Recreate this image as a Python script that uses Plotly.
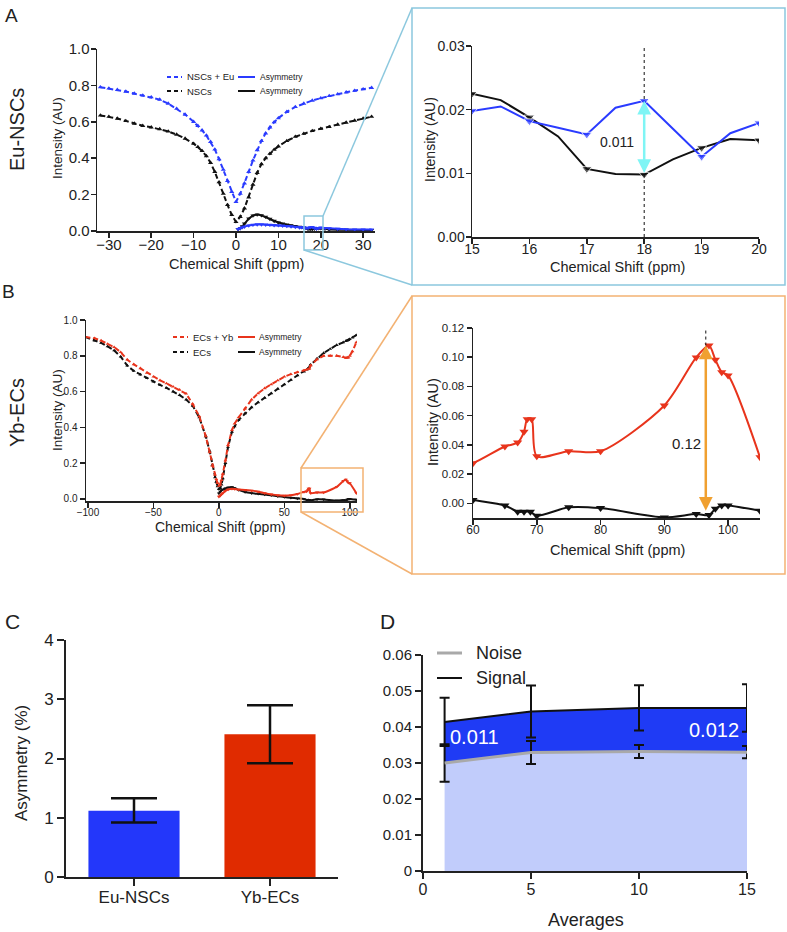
import plotly.graph_objects as go

W, H = 787, 932

# ---------------- Panel A data (Eu-NSCs) ----------------
a_shift = [-32, -30, -28, -26, -24, -22, -20, -18, -16, -14, -12, -10, -9, -8, -7, -6, -5, -4, -3, -2, -1,
           0, 1, 2, 3, 4, 5, 6, 7, 8, 9, 10, 12, 14, 16, 18, 20, 22, 24, 26, 28, 30, 32]
a_eu = [0.790, 0.783, 0.776, 0.766, 0.755, 0.745, 0.735, 0.722, 0.700, 0.672, 0.640, 0.600, 0.578, 0.553,
        0.525, 0.490, 0.448, 0.395, 0.337, 0.275, 0.215, 0.160, 0.205, 0.262, 0.325, 0.388, 0.445, 0.495,
        0.537, 0.570, 0.598, 0.620, 0.655, 0.682, 0.700, 0.717, 0.730, 0.742, 0.752, 0.762, 0.771, 0.779, 0.787]
a_nsc = [0.635, 0.628, 0.618, 0.605, 0.590, 0.578, 0.570, 0.560, 0.547, 0.530, 0.508, 0.480, 0.462, 0.440,
         0.412, 0.375, 0.325, 0.268, 0.205, 0.143, 0.088, 0.050, 0.078, 0.125, 0.185, 0.255, 0.320, 0.368,
         0.400, 0.425, 0.447, 0.465, 0.495, 0.518, 0.535, 0.550, 0.562, 0.572, 0.585, 0.596, 0.607, 0.618, 0.628]
a_asym_shift = [0.5, 1, 1.5, 2, 3, 4, 5, 6, 7, 8, 9, 10, 11, 12, 13, 14, 15, 15.5, 16, 16.5, 17, 17.5, 18,
                18.5, 19, 19.5, 20, 21, 22, 24, 26, 28, 30, 32]
a_asym_eu = [0.010, 0.015, 0.020, 0.024, 0.030, 0.034, 0.036, 0.036, 0.035, 0.034, 0.032, 0.031, 0.029, 0.027,
             0.025, 0.022, 0.0198, 0.0205, 0.0182, 0.01715, 0.0161, 0.0203, 0.0214, 0.0170, 0.0126, 0.0163,
             0.0179, 0.016, 0.014, 0.011, 0.009, 0.008, 0.008, 0.008]
a_asym_nsc = [0.010, 0.015, 0.025, 0.040, 0.068, 0.085, 0.090, 0.086, 0.078, 0.066, 0.055, 0.046, 0.040, 0.035,
              0.031, 0.027, 0.0225, 0.0215, 0.0188, 0.0158, 0.0107, 0.0099, 0.0098, 0.0122, 0.0140, 0.0154,
              0.0152, 0.012, 0.008, 0.007, 0.006, 0.005, 0.004, 0.005]
a_mark_shift = 18
a_diff_label = "0.011"

# ---------------- Panel B data (Yb-ECs) ----------------
b_shift = [-102, -95, -90, -85, -80, -75, -70, -65, -60, -55, -50, -45, -40, -35, -30, -25, -20, -15, -10, -7,
           -5, -3, -2, -1, 0, 1, 2, 3, 5, 7, 10, 12, 15, 20, 25, 30, 35, 40, 45, 50, 55, 60, 65, 67, 68, 69, 70,
           75, 80, 85, 90, 95, 97, 98, 99, 100, 102, 105]
b_yb = [0.905, 0.898, 0.885, 0.866, 0.848, 0.820, 0.778, 0.752, 0.730, 0.705, 0.683, 0.663, 0.645, 0.627, 0.610,
        0.588, 0.530, 0.462, 0.350, 0.260, 0.185, 0.135, 0.110, 0.088, 0.073, 0.080, 0.105, 0.140, 0.215, 0.300,
        0.385, 0.420, 0.455, 0.505, 0.555, 0.590, 0.618, 0.640, 0.662, 0.683, 0.697, 0.708, 0.718, 0.722, 0.725,
        0.727, 0.745, 0.780, 0.800, 0.800, 0.800, 0.793, 0.788, 0.790, 0.790, 0.800, 0.825, 0.875]
b_ec = [0.905, 0.885, 0.872, 0.852, 0.830, 0.795, 0.745, 0.715, 0.695, 0.675, 0.655, 0.637, 0.620, 0.600, 0.580,
        0.555, 0.520, 0.455, 0.350, 0.265, 0.190, 0.120, 0.095, 0.070, 0.055, 0.060, 0.080, 0.115, 0.200, 0.290,
        0.375, 0.405, 0.440, 0.478, 0.512, 0.540, 0.565, 0.590, 0.615, 0.640, 0.665, 0.690, 0.712, 0.722, 0.728,
        0.735, 0.750, 0.785, 0.815, 0.838, 0.860, 0.875, 0.882, 0.885, 0.888, 0.893, 0.902, 0.915]
b_asym_yb_shift = [0, 1, 2, 3, 5, 7, 10, 12, 15, 20, 25, 30, 35, 40, 45, 50, 55, 60, 65, 67, 68, 68.5, 69.2, 70,
                   75, 80, 90, 95, 97, 98, 99, 100, 105]
b_asym_yb = [0.012, 0.018, 0.025, 0.032, 0.045, 0.052, 0.056, 0.055, 0.052, 0.050, 0.046, 0.040, 0.032, 0.025,
             0.020, 0.018, 0.020, 0.0274, 0.0389, 0.0416, 0.0490, 0.0576, 0.0576, 0.0322, 0.0357, 0.0357,
             0.0670, 0.0999, 0.1080, 0.0983, 0.0898, 0.0875, 0.0315]
b_asym_ec_shift = [0, 1, 2, 3, 5, 7, 10, 12, 15, 20, 25, 30, 35, 40, 45, 50, 55, 60, 65, 67, 68, 69, 70, 75, 80,
                   90, 95, 97, 98, 99, 100, 105]
b_asym_ec = [0.030, 0.040, 0.048, 0.052, 0.058, 0.063, 0.065, 0.060, 0.050, 0.038, 0.032, 0.028, 0.024, 0.020,
             0.015, 0.010, 0.006, 0.0023, -0.0014, -0.0057, -0.0057, -0.0057, -0.0085, -0.0027, -0.0032,
             -0.0096, -0.0073, -0.0080, -0.0037, -0.0014, -0.0014, -0.0050]
b_mark_shift = 96.5
b_peak = [0.108, -0.006]
b_diff_label = "0.12"

# ---------------- Panel C data ----------------
c_groups = ["Eu-NSCs", "Yb-ECs"]
c_asym = [1.12, 2.41]
c_err_plus = [0.21, 0.49]
c_err_minus = [0.20, 0.49]

# ---------------- Panel D data ----------------
d_avg = [1, 5, 10, 15]
d_noise = [0.0300, 0.0329, 0.0332, 0.0330]
d_noise_err = [0.0052, 0.0032, 0.0018, 0.0017]
d_signal = [0.0414, 0.0443, 0.0453, 0.0453]
d_signal_err = [0.0067, 0.0072, 0.0063, 0.0066]
d_labels = ["0.011", "0.012"]

BLUE = "#2A3BFF"
RED = "#E8341C"
BLACK = "#111111"
AXC = "#222222"
FONT = "Liberation Sans, Arial, sans-serif"


def px(x, y):
    return x / W, 1 - y / H


fig = go.Figure()

# ---- A main
fig.add_trace(go.Scatter(x=a_shift, y=a_eu, mode="lines+markers", xaxis="x", yaxis="y",
                         line=dict(color=BLUE, width=2, dash="5px,3px"),
                         marker=dict(symbol="triangle-up", size=4.5, color=BLUE)))
fig.add_trace(go.Scatter(x=a_shift, y=a_nsc, mode="lines+markers", xaxis="x", yaxis="y",
                         line=dict(color=BLACK, width=2, dash="5px,3px"),
                         marker=dict(symbol="triangle-up", size=4.5, color=BLACK)))
fig.add_trace(go.Scatter(x=a_asym_shift, y=a_asym_nsc, mode="lines+markers", xaxis="x", yaxis="y",
                         line=dict(color=BLACK, width=2),
                         marker=dict(symbol="triangle-down", size=4.5, color=BLACK)))
fig.add_trace(go.Scatter(x=a_asym_shift, y=a_asym_eu, mode="lines+markers", xaxis="x", yaxis="y",
                         line=dict(color=BLUE, width=2),
                         marker=dict(symbol="triangle-down", size=4.5, color=BLUE)))

# ---- A inset
ins_sizes = [9 if float(v).is_integer() else 0 for v in a_asym_shift]
fig.add_trace(go.Scatter(x=a_asym_shift, y=a_asym_nsc, mode="lines+markers", xaxis="x2", yaxis="y2",
                         line=dict(color=BLACK, width=2),
                         marker=dict(symbol="triangle-down", size=ins_sizes, color=BLACK)))
fig.add_trace(go.Scatter(x=a_asym_shift, y=a_asym_eu, mode="lines+markers", xaxis="x2", yaxis="y2",
                         line=dict(color=BLUE, width=2),
                         marker=dict(symbol="triangle-down", size=ins_sizes, color=BLUE)))

# ---- B main
fig.add_trace(go.Scatter(x=b_shift, y=b_ec, mode="lines+markers", xaxis="x3", yaxis="y3",
                         line=dict(color=BLACK, width=2, dash="5px,3px"),
                         marker=dict(symbol="triangle-up", size=3.5, color=BLACK)))
fig.add_trace(go.Scatter(x=b_shift, y=b_yb, mode="lines+markers", xaxis="x3", yaxis="y3",
                         line=dict(color=RED, width=2, dash="5px,3px"),
                         marker=dict(symbol="triangle-up", size=3.5, color=RED)))
fig.add_trace(go.Scatter(x=b_asym_ec_shift, y=b_asym_ec, mode="lines+markers", xaxis="x3", yaxis="y3",
                         line=dict(color=BLACK, width=2, shape="spline", smoothing=0.6),
                         marker=dict(symbol="triangle-down", size=3.5, color=BLACK)))
fig.add_trace(go.Scatter(x=b_asym_yb_shift, y=b_asym_yb, mode="lines+markers", xaxis="x3", yaxis="y3",
                         line=dict(color=RED, width=2, shape="spline", smoothing=0.6),
                         marker=dict(symbol="triangle-down", size=3.5, color=RED)))

# ---- B inset
fig.add_trace(go.Scatter(x=b_asym_ec_shift, y=b_asym_ec, mode="lines+markers", xaxis="x4", yaxis="y4",
                         line=dict(color=BLACK, width=2, shape="spline", smoothing=0.8),
                         marker=dict(symbol="triangle-down", size=8, color=BLACK)))
fig.add_trace(go.Scatter(x=b_asym_yb_shift, y=b_asym_yb, mode="lines+markers", xaxis="x4", yaxis="y4",
                         line=dict(color=RED, width=2, shape="spline", smoothing=0.8),
                         marker=dict(symbol="triangle-down", size=8, color=RED)))

# ---- C bars
fig.add_trace(go.Bar(x=c_groups, y=c_asym, xaxis="x5", yaxis="y5", width=0.67,
                     marker=dict(color=["#2337FA", "#E02B00"], line=dict(width=0)),
                     error_y=dict(type="data", symmetric=False, array=c_err_plus, arrayminus=c_err_minus,
                                  color=BLACK, thickness=2.5, width=23)))

# ---- D area
fig.add_trace(go.Scatter(x=d_avg, y=d_noise, mode="lines", xaxis="x6", yaxis="y6", cliponaxis=False,
                         fill="tozeroy", fillcolor="#C1CCFB",
                         line=dict(color="#A9A9A9", width=3),
                         error_y=dict(type="data", array=d_noise_err, color=BLACK, thickness=2, width=5)))
fig.add_trace(go.Scatter(x=d_avg, y=d_signal, mode="lines", xaxis="x6", yaxis="y6", cliponaxis=False,
                         fill="tonexty", fillcolor="#1F3BF5",
                         line=dict(color=BLACK, width=2),
                         error_y=dict(type="data", array=d_signal_err, color=BLACK, thickness=2, width=5)))


def axis(domain, rng, anchor, size, lw=1.5, tl=5, **kw):
    d = dict(domain=domain, range=rng, anchor=anchor, showline=True, linecolor=AXC, linewidth=lw,
             ticks="outside", ticklen=tl, tickwidth=lw, tickcolor=AXC, showgrid=False, zeroline=False,
             tickfont=dict(size=size, color=AXC, family=FONT), fixedrange=True, automargin=False)
    d.update(kw)
    return d


layout = dict(
    width=W, height=H, margin=dict(l=0, r=0, t=0, b=0, autoexpand=False), showlegend=False,
    paper_bgcolor="white", plot_bgcolor="white", font=dict(family=FONT, color=AXC),
    xaxis=axis([97 / W, 375 / W], [-32.8, 32.8], "y", 15, tickvals=[-30, -20, -10, 0, 10, 20, 30],
               ticklabelstandoff=-6),
    yaxis=axis([1 - 231 / H, 1 - 49 / H], [0, 1.0], "x", 15, dtick=0.2, tickformat=".1f", ticklabelstandoff=-2),
    xaxis2=axis([472 / W, 759 / W], [15, 20], "y2", 14, dtick=1, ticklabelstandoff=-6),
    yaxis2=axis([1 - 237 / H, 1 - 46 / H], [0, 0.03], "x2", 14, dtick=0.01, tickformat=".2f",
                ticklabelstandoff=-2),
    xaxis3=axis([86 / W, 357 / W], [-101.5, 105.5], "y3", 10, tickvals=[-100, -50, 0, 50, 100],
                ticklabelstandoff=-4),
    yaxis3=axis([1 - 501 / H, 1 - 320 / H], [-0.012, 1.0], "x3", 10, tickvals=[0, 0.2, 0.4, 0.6, 0.8, 1.0],
                tickformat=".1f"),
    xaxis4=axis([473 / W, 760 / W], [60, 105], "y4", 12, tickvals=[60, 70, 80, 90, 100], ticklabelstandoff=-5),
    yaxis4=axis([1 - 518 / H, 1 - 328 / H], [-0.01, 0.12], "x4", 11.5,
                tickvals=[0, 0.02, 0.04, 0.06, 0.08, 0.10, 0.12], tickformat=".2f"),
    xaxis5=axis([66 / W, 338 / W], [-0.5, 1.5], "y5", 17, lw=2, tl=7, type="category", ticklabelstandoff=-3),
    yaxis5=axis([1 - 877 / H, 1 - 640 / H], [0, 4], "x5", 17, lw=2, tl=7, dtick=1),
    xaxis6=axis([423 / W, 747 / W], [0, 15], "y6", 16, lw=2, tl=6, dtick=5, ticklabelstandoff=-3),
    yaxis6=axis([1 - 871 / H, 1 - 655 / H], [0, 0.06], "x6", 15, lw=2, tl=6, dtick=0.01),
)
fig.update_layout(**layout)

ann = []
shapes = []


def text(x, y, t, size, angle=0, xanchor="center", color=AXC, family=FONT):
    xp, yp = px(x, y)
    ann.append(dict(x=xp, y=yp, xref="paper", yref="paper", text=t, showarrow=False, textangle=angle,
                    xanchor=xanchor, yanchor="middle", font=dict(size=size, color=color, family=family)))


def pline(x0, y0, x1, y1, color, width=1.5, dash="solid"):
    a, b = px(x0, y0)
    c, d = px(x1, y1)
    shapes.append(dict(type="line", xref="paper", yref="paper", x0=a, y0=b, x1=c, y1=d,
                       line=dict(color=color, width=width, dash=dash)))


def prect(x0, y0, x1, y1, color, width=1.5):
    a, b = px(x0, y0)
    c, d = px(x1, y1)
    shapes.append(dict(type="rect", xref="paper", yref="paper", x0=a, y0=d, x1=c, y1=b,
                       line=dict(color=color, width=width), fillcolor="rgba(0,0,0,0)"))


# panel letters and row titles
text(11, 15, "A", 19)
text(8, 291, "B", 19)
text(12, 621, "C", 21)
text(387, 621, "D", 21)
text(17, 130, "Eu-NSCs", 20, angle=-90)
text(17, 413, "Yb-ECs", 20, angle=-90)

# axis titles
text(236, 264, "Chemical Shift (ppm)", 14.5)
text(57, 138, "Intensity (AU)", 13.5, angle=-90)
text(617, 267, "Chemical Shift (ppm)", 14.5)
text(430, 140, "Intensity (AU)", 14, angle=-90)
text(220, 527, "Chemical Shift (ppm)", 14)
text(57, 410, "Intensity (AU)", 13.5, angle=-90)
text(617, 550, "Chemical Shift (ppm)", 14.5)
text(433, 422, "Intensity (AU)", 14.5, angle=-90)
text(21, 763, "Asymmetry (%)", 17, angle=-90)
text(586, 920, "Averages", 18)

# legend A
pline(167, 77, 182, 77, BLUE, 2, "4px,3px")
text(185, 77, "NSCs + Eu", 9.5, xanchor="left")
pline(238, 77, 255, 77, BLUE, 2)
text(258, 77, "Asymmetry", 8.5, xanchor="left")
pline(167, 91, 182, 91, BLACK, 2, "4px,3px")
text(185, 91, "NSCs", 9.5, xanchor="left")
pline(238, 91, 255, 91, BLACK, 2)
text(258, 91, "Asymmetry", 8.5, xanchor="left")

# legend B
pline(173, 337, 188, 337, RED, 2, "4px,3px")
text(191, 337, "ECs + Yb", 9.5, xanchor="left")
pline(238, 337, 255, 337, RED, 2)
text(257, 337, "Asymmetry", 8.5, xanchor="left")
pline(173, 352, 188, 352, BLACK, 2, "4px,3px")
text(191, 352, "ECs", 9.5, xanchor="left")
pline(238, 352, 255, 352, BLACK, 2)
text(257, 352, "Asymmetry", 8.5, xanchor="left")

# legend D
pline(437, 653, 462, 653, "#A9A9A9", 3)
text(474, 653, "Noise", 18, xanchor="left")
pline(437, 678, 462, 678, BLACK, 2)
text(474, 678, "Signal", 18, xanchor="left")

# zoom boxes and connectors
ACY = "#8CC8DE"
AOR = "#F3B273"
prect(304, 216, 323, 250, ACY)
prect(412, 8, 785, 285, ACY)
pline(323, 216, 412, 8, ACY)
pline(304, 250, 412, 285, ACY)
prect(301, 468, 363, 512, AOR)
prect(412, 296, 785, 574, AOR)
pline(301, 468, 412, 296, AOR)
pline(301, 512, 412, 574, AOR)

# inset A marker line + arrow
ia = a_asym_shift.index(a_mark_shift)
shapes.append(dict(type="line", xref="x2", yref="y2", x0=a_mark_shift, x1=a_mark_shift, y0=0, y1=0.03,
                   line=dict(color=BLACK, width=1, dash="dot")))
ann.append(dict(x=a_mark_shift, y=a_asym_eu[ia], ax=a_mark_shift, ay=a_asym_nsc[ia], xref="x2", yref="y2",
                axref="x2", ayref="y2", text="", showarrow=True, arrowhead=2, startarrowhead=2,
                arrowside="end+start", arrowsize=1.1, startarrowsize=1.1, arrowwidth=2.5,
                arrowcolor="#7FF5F5", standoff=0, startstandoff=0))
ann.append(dict(x=17.86, y=0.0149, xref="x2", yref="y2", text=a_diff_label, showarrow=False, xanchor="right",
                font=dict(size=14, color=AXC, family=FONT)))

# inset B marker line + arrow
shapes.append(dict(type="line", xref="x4", yref="y4", x0=b_mark_shift, x1=b_mark_shift, y0=b_peak[0], y1=0.12,
                   line=dict(color=BLACK, width=1, dash="dot")))
ann.append(dict(x=b_mark_shift, y=b_peak[0], ax=b_mark_shift, ay=b_peak[1], xref="x4", yref="y4",
                axref="x4", ayref="y4", text="", showarrow=True, arrowhead=2, startarrowhead=2,
                arrowside="end+start", arrowsize=1.1, startarrowsize=1.1, arrowwidth=2.5,
                arrowcolor="#F0A030", standoff=0, startstandoff=0))
ann.append(dict(x=93.4, y=0.041, xref="x4", yref="y4", text=b_diff_label, showarrow=False,
                font=dict(size=15, color=AXC, family=FONT)))

# panel D labels
ann.append(dict(x=2.4, y=0.0372, xref="x6", yref="y6", text=d_labels[0], showarrow=False,
                font=dict(size=20, color="white", family=FONT)))
ann.append(dict(x=13.45, y=0.0392, xref="x6", yref="y6", text=d_labels[1], showarrow=False,
                font=dict(size=20, color="white", family=FONT)))

fig.update_layout(annotations=ann, shapes=shapes)
fig.write_html("out.html", config={"displayModeBar": False, "staticPlot": True},
               post_script="document.body.style.margin='0';document.body.style.overflow='hidden';")
